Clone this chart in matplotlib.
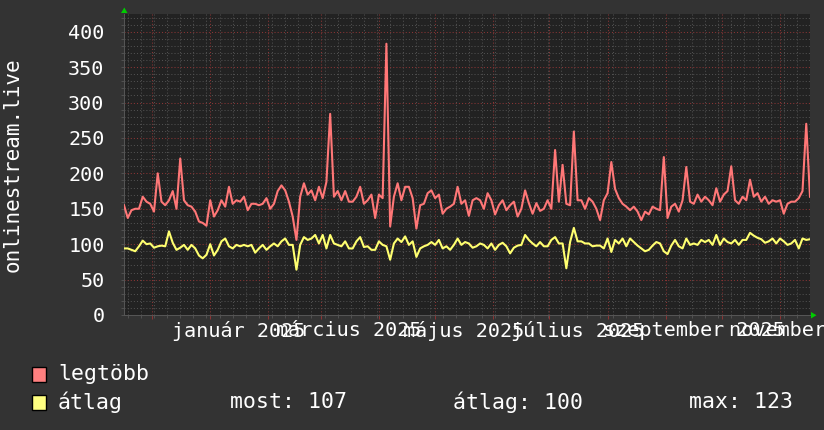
import matplotlib
matplotlib.use('Agg')
import matplotlib.pyplot as plt
from matplotlib.patches import Rectangle, Polygon
from matplotlib.transforms import blended_transform_factory
import datetime as dt

# ---------------- data ----------------
start = dt.datetime(2024, 11, 16)
step_days = 2
end = dt.datetime(2025, 11, 17)

legtobb = [155, 137, 148, 150, 150, 167, 160, 157, 146, 200,
           160, 155, 162, 175, 150, 221, 162, 155, 153, 146,
           132, 130, 126, 162, 139, 148, 162, 153, 181, 157,
           162, 160, 167, 148, 157, 157, 155, 157, 165, 150,
           157, 175, 183, 176, 160, 139, 106, 167, 186, 170,
           176, 162, 181, 165, 188, 284, 167, 175, 162, 175,
           160, 160, 167, 181, 157, 162, 170, 137, 170, 165,
           383, 125, 167, 186, 162, 181, 181, 165, 122, 155,
           157, 172, 176, 165, 170, 143, 150, 153, 157, 181,
           157, 162, 140, 162, 165, 162, 150, 172, 162, 142,
           155, 162, 148, 155, 160, 139, 150, 176, 158, 143,
           158, 147, 150, 162, 150, 233, 160, 212, 157, 155,
           259, 162, 162, 150, 165, 160, 150, 134, 162, 172,
           216, 178, 165, 157, 153, 148, 153, 146, 134, 146,
           142, 153, 150, 148, 223, 137, 153, 157, 146, 162,
           209, 160, 157, 170, 160, 167, 162, 155, 179, 160,
           170, 175, 210, 162, 157, 167, 162, 191, 167, 172,
           160, 167, 157, 162, 160, 162, 143, 157, 160, 160,
           165, 175, 270, 167]

atlag = [94, 94, 92, 90, 97, 105, 100, 101, 95, 97,
         98, 97, 118, 102, 92, 95, 99, 92, 99, 94,
         84, 80, 85, 100, 84, 92, 104, 108, 97, 94,
         99, 97, 99, 97, 99, 88, 94, 99, 92, 97,
         101, 97, 104, 108, 99, 99, 64, 99, 110, 106,
         108, 113, 101, 113, 94, 113, 101, 99, 97, 104,
         94, 94, 104, 110, 96, 97, 92, 92, 104, 99,
         97, 78, 101, 108, 103, 111, 99, 104, 82, 94,
         97, 99, 103, 99, 106, 94, 97, 92, 99, 108,
         99, 103, 101, 95, 97, 101, 99, 94, 101, 92,
         99, 102, 97, 87, 95, 98, 99, 113, 106, 101,
         97, 103, 97, 97, 106, 110, 101, 101, 66, 103,
         123, 104, 104, 101, 101, 97, 98, 98, 94, 108,
         89, 106, 101, 108, 97, 108, 103, 98, 94, 90,
         92, 98, 103, 101, 90, 86, 98, 106, 97, 94,
         108, 99, 101, 99, 106, 103, 106, 99, 113, 99,
         108, 103, 101, 106, 99, 106, 106, 116, 112, 109,
         107, 102, 104, 108, 101, 108, 104, 99, 101, 106,
         94, 108, 106, 107]

series_names = ['legtöbb', 'átlag']
series_colors = ['#ff7777', '#ffff70']
legend_colors = ['#ff8080', '#ffff80']
stats_texts = ['most: 107', 'átlag: 100', 'max: 123']
ylabel = 'onlinestream.live'
yticks = [0, 50, 100, 150, 200, 250, 300, 350, 400]
month_labels = ['január 2025', 'március 2025', 'május 2025',
                'július 2025', 'szeptember 2025', 'november 2025']
label_dates = [dt.datetime(2025, m, 16) for m in (1, 3, 5, 7, 9, 11)]

# ---------------- figure ----------------
W, H = 824, 430
BG = '#333333'
PLOT_BG = '#222222'
MONO = ['DejaVu Sans Mono', 'Liberation Mono']

fig = plt.figure(figsize=(W / 100, H / 100), dpi=100, facecolor=BG)
L, R, T, B = 124, 810, 14, 315
ax = fig.add_axes([L / W, 1 - B / H, (R - L) / W, (B - T) / H])
ax.set_facecolor(PLOT_BG)

xs = [start + dt.timedelta(days=step_days * i) for i in range(len(legtobb))]

ax.plot(xs, legtobb, color=series_colors[0], lw=1.5, zorder=3)
ax.plot(xs, atlag, color=series_colors[1], lw=1.5, zorder=3)

ax.set_xlim(start, end)
ax.set_ylim(0, 425)

# grid
months = []
y, m = 2024, 12
while True:
    d = dt.datetime(y, m, 1)
    if d > end:
        break
    months.append(d)
    m += 1
    if m > 12:
        m = 1
        y += 1
weeks = []
d = dt.datetime(2024, 11, 18)
while d < end:
    weeks.append(d)
    d += dt.timedelta(days=7)

ax.set_xticks(months)
ax.set_xticks(weeks, minor=True)
ax.set_yticks(yticks)
ax.set_yticks(range(0, 426, 10), minor=True)
ax.set_xticklabels([])

ax.grid(which='minor', color='#505050', linestyle=(0, (1, 2)), lw=0.75, zorder=1)
ax.grid(which='major', color='#8a3535', linestyle=(0, (1, 2)), lw=0.75, zorder=1)
ax.set_axisbelow(True)

ax.tick_params(axis='x', which='major', length=3, color='#8a3535', width=0.75)
ax.tick_params(axis='x', which='minor', length=2, color='#505050', width=0.75)
ax.tick_params(axis='y', which='both', length=2, color='#505050', width=0.75,
               labelsize=14.5, labelcolor='white', pad=12)
for lab in ax.get_yticklabels():
    lab.set_family(MONO)

for s in ['top', 'right']:
    ax.spines[s].set_visible(False)
for s in ['left', 'bottom']:
    ax.spines[s].set_color('#555555')
    ax.spines[s].set_linewidth(0.75)

# x labels (centered mid-month like rrdtool)
tr = blended_transform_factory(ax.transData, ax.transAxes)
for d, lab in zip(label_dates, month_labels):
    ax.text(d, -16 / (B - T), lab, transform=tr, ha='center', va='center',
            fontsize=14.5, color='white', family=MONO, clip_on=False)

# y axis title
fig.text(13 / W, 1 - ((T + B) / 2) / H, ylabel, rotation=90, ha='center', va='center',
         fontsize=15, color='white', family=MONO)

# arrows
def px(x, y):
    return (x / W, 1 - y / H)

fig.patches.append(Polygon([px(121, 13), px(127.5, 13), px(124.3, 7.5)], closed=True,
                           transform=fig.transFigure, facecolor='#00cc00', edgecolor='none'))
fig.patches.append(Polygon([px(811, 312), px(811, 318.5), px(816.5, 315.2)], closed=True,
                           transform=fig.transFigure, facecolor='#00cc00', edgecolor='none'))

# legend
rows_y = [374, 402]
for yc, name, col in zip(rows_y, series_names, legend_colors):
    fig.patches.append(Rectangle(px(32, yc + 7.5), 14 / W, 15 / H, transform=fig.transFigure,
                                 facecolor=col, edgecolor='black', lw=1.0))
    fig.text(58 / W, 1 - yc / H, name, ha='left', va='center', fontsize=15.5,
             color='white', family=MONO)

for xpos, txt in zip([230, 453, 689], stats_texts):
    fig.text(xpos / W, 1 - rows_y[1] / H, txt, ha='left', va='center', fontsize=15.5,
             color='white', family=MONO)

fig.savefig('out.png', dpi=100, facecolor=BG)
